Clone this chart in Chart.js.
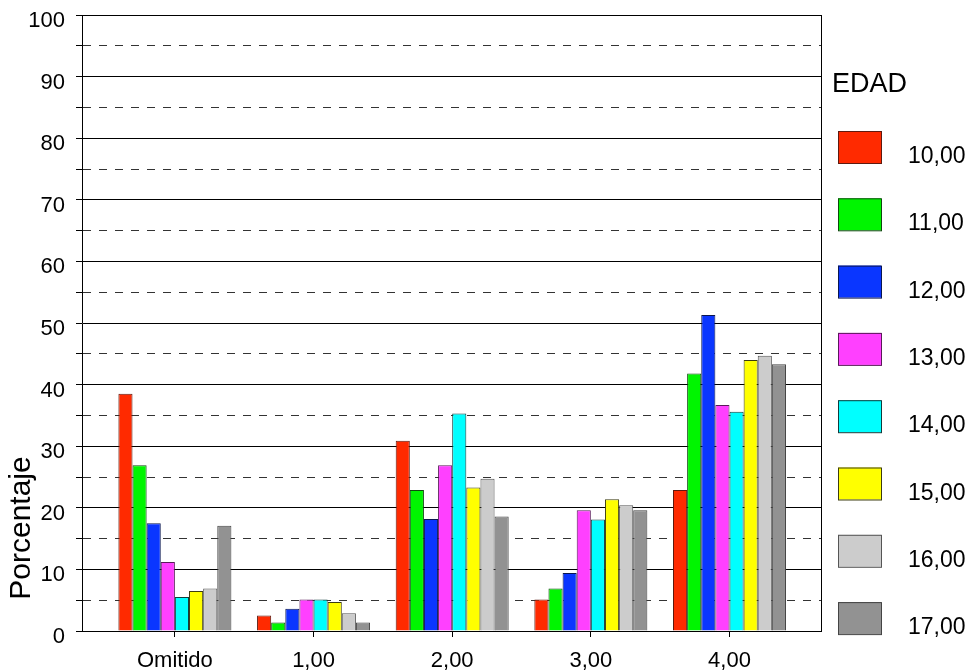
<!DOCTYPE html>
<html>
<head>
<meta charset="utf-8">
<script src="https://cdn.jsdelivr.net/npm/chart.js@4.4.1/dist/chart.umd.min.js"></script>
<style>
  body { margin: 0; background: #fff; }
  #contenedor { width: 970px; height: 672px; }
</style>
</head>
<body>
<div id="contenedor"><canvas id="grafico" width="970" height="672"></canvas></div>
<script>
// Datos (porcentaje por respuesta y edad)
const categorias = ['Omitido', '1,00', '2,00', '3,00', '4,00'];
const edades = ['10,00', '11,00', '12,00', '13,00', '14,00', '15,00', '16,00', '17,00'];
const edad10 = [38.5, 2.5, 30.9, 5.1, 22.9];
const edad11 = [26.9, 1.4, 22.9, 6.9, 41.8];
const edad12 = [17.5, 3.6, 18.2, 9.4, 51.3];
const edad13 = [11.2, 5.1, 26.9, 19.6, 36.7];
const edad14 = [5.5, 5.1, 35.3, 18.1, 35.6];
const edad15 = [6.5, 4.7, 23.3, 21.4, 44.0];
const edad16 = [6.9, 2.9, 24.7, 20.4, 44.7];
const edad17 = [17.1, 1.4, 18.6, 19.6, 43.3];
const marcasY = [0, 5, 10, 15, 20, 25, 30, 35, 40, 45, 50, 55, 60, 65, 70, 75, 80, 85, 90, 95, 100];

const series = [edad10, edad11, edad12, edad13, edad14, edad15, edad16, edad17];
const colores = ['#ff2a00', '#00f500', '#0a36ff', '#ff40ff', '#00ffff', '#ffff00', '#cccccc', '#929292'];
const bordes = ['#5e1a10', '#0f4a0f', '#0a1650', '#5a1a5a', '#103c3c', '#3c3c10', '#555555', '#444444'];

const fuente = '"Liberation Sans", Arial, sans-serif';

const marcoYLeyenda = {
  id: 'marcoYLeyenda',
  afterDraw: (chart) => {
    const { ctx, chartArea: { right, top, bottom } } = chart;
    ctx.save();
    // borde derecho del área
    ctx.strokeStyle = '#000';
    ctx.lineWidth = 1;
    ctx.beginPath();
    ctx.moveTo(right + 0.5, top);
    ctx.lineTo(right + 0.5, bottom);
    ctx.stroke();

    // título del eje Y
    ctx.save();
    ctx.translate(22, 528);
    ctx.rotate(-Math.PI / 2);
    ctx.fillStyle = '#000';
    ctx.font = '30px ' + fuente;
    ctx.textAlign = 'center';
    ctx.textBaseline = 'middle';
    ctx.fillText('Porcentaje', 0, 0);
    ctx.restore();

    // leyenda
    ctx.fillStyle = '#000';
    ctx.font = '27px ' + fuente;
    ctx.textAlign = 'left';
    ctx.textBaseline = 'alphabetic';
    ctx.fillText('EDAD', right + 11, 92);
    chart.data.datasets.forEach((ds, i) => {
      const y0 = 131 + i * 67.3;
      ctx.fillStyle = ds.backgroundColor;
      ctx.fillRect(right + 17, y0, 43, 32);
      ctx.strokeStyle = ds.borderColor;
      ctx.strokeRect(right + 17.5, y0 + 0.5, 43, 32);
      ctx.fillStyle = '#000';
      ctx.font = '23px ' + fuente;
      ctx.fillText(ds.label, right + 87, y0 + 32);
    });
    ctx.restore();
  }
};

const esMenor = (c) => c.tick && c.tick.value % 10 !== 0;

new Chart(document.getElementById('grafico'), {
  type: 'bar',
  data: {
    datasets: series.map((serie, i) => ({
      label: edades[i],
      data: serie.map((v, j) => ({ x: j, y: v })),
      backgroundColor: colores[i],
      borderColor: bordes[i],
      borderWidth: 1,
      categoryPercentage: 0.815,
      barPercentage: 1
    }))
  },
  options: {
    responsive: false,
    animation: false,
    layout: { padding: { left: 0, top: 15, right: 149, bottom: 0 } },
    plugins: { legend: { display: false }, tooltip: { enabled: false } },
    scales: {
      x: {
        type: 'linear',
        offset: false,
        min: -0.67,
        max: 4.66,
        afterBuildTicks: (s) => { s.ticks = categorias.map((c, i) => ({ value: i })); },
        afterFit: (s) => { s.height = 41; s.paddingLeft = 0; s.paddingRight = 0; },
        ticks: {
          callback: (v) => categorias[v],
          color: '#000',
          font: { family: fuente, size: 22 },
          padding: 11,
          maxRotation: 0,
          autoSkip: false
        },
        grid: { offset: false, drawOnChartArea: false, drawTicks: true, tickLength: 6, color: '#000' },
        border: { display: true, color: '#000' }
      },
      y: {
        min: 0,
        max: 100,
        afterBuildTicks: (s) => { s.ticks = marcasY.map((v) => ({ value: v })); },
        afterFit: (s) => { s.width = 82; s.paddingTop = 0; s.paddingBottom = 0; },
        ticks: {
          callback: (v) => (v % 10 === 0 ? String(v) : ''),
          color: '#000',
          font: { family: fuente, size: 22 },
          padding: 11,
          labelOffset: 6,
          autoSkip: false
        },
        grid: {
          color: (c) => (esMenor(c) ? '#333' : '#000'),
          tickColor: '#000',
          tickLength: 6
        },
        border: {
          display: true,
          color: '#000',
          dash: (c) => (esMenor(c) ? [8, 8] : [])
        }
      }
    }
  },
  plugins: [marcoYLeyenda]
});
</script>
</body>
</html>
